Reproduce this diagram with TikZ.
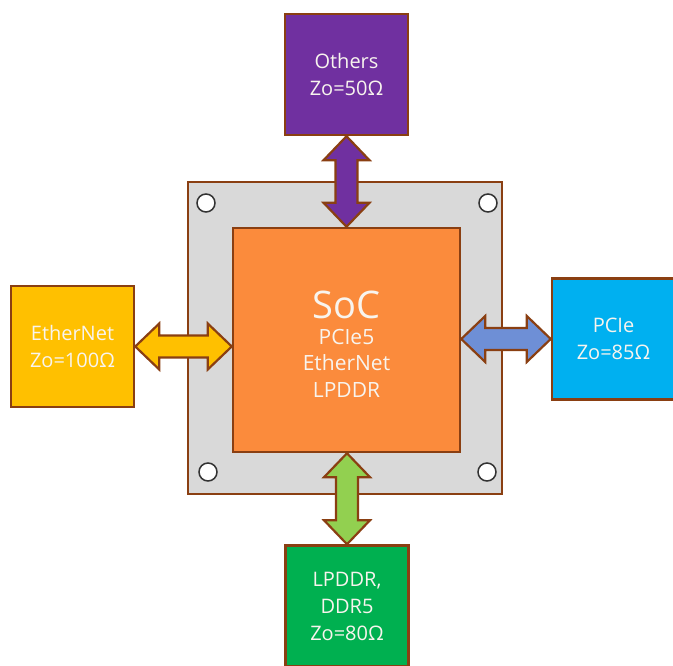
\documentclass[tikz,border=0pt]{standalone}
\usepackage{fontspec}
\setmainfont{Open Sans}
\usetikzlibrary{calc}
\definecolor{brd}{HTML}{8A3F12}
\definecolor{purp}{HTML}{7030A0}
\definecolor{gold}{HTML}{FFC000}
\definecolor{sky}{HTML}{00B0F0}
\definecolor{grn}{HTML}{00B050}
\definecolor{lgrn}{HTML}{92D050}
\definecolor{lblue}{HTML}{6E8FD6}
\definecolor{soco}{HTML}{FB8B3C}
\definecolor{board}{HTML}{D9D9D9}
\definecolor{txt}{HTML}{F8F4EE}
\tikzset{
  box/.style={draw=brd, line width=2.5pt, minimum width=123pt, minimum height=121pt,
    inner sep=0pt, align=center, text=txt, font=\fontsize{20}{27}\selectfont},
  arrowline/.style={draw=brd, line width=2.2pt, line join=miter},
  hole/.style={circle, draw=black!80, fill=white, line width=1.5pt, minimum size=18pt, inner sep=0pt},
}
\newcommand{\harrow}[3]{%
  \path[arrowline, fill=#1] let \p1=#2, \p2=#3 in
   (\x1,\y1) -- (\x1+24pt,\y1+23pt) -- (\x1+24pt,\y1+11pt) -- (\x2-24pt,\y1+11pt)
   -- (\x2-24pt,\y1+23pt) -- (\x2,\y1) -- (\x2-24pt,\y1-23pt) -- (\x2-24pt,\y1-11pt)
   -- (\x1+24pt,\y1-11pt) -- (\x1+24pt,\y1-23pt) -- cycle;}
\newcommand{\varrow}[3]{%
  \path[arrowline, fill=#1] let \p1=#2, \p2=#3 in
   (\x1,\y1) -- (\x1+23pt,\y1-24pt) -- (\x1+11pt,\y1-24pt) -- (\x1+11pt,\y2+24pt)
   -- (\x1+23pt,\y2+24pt) -- (\x1,\y2) -- (\x1-23pt,\y2+24pt) -- (\x1-11pt,\y2+24pt)
   -- (\x1-11pt,\y1-24pt) -- (\x1-23pt,\y1-24pt) -- cycle;}
\begin{document}
\begin{tikzpicture}[x=1pt,y=1pt]
\useasboundingbox (0,0) rectangle (673,666);
% board
\node[draw=brd, line width=2.5pt, fill=board, minimum width=314pt, minimum height=312pt, inner sep=0pt] (board) at (345,328) {};
\node[hole] (h1) at (206,463) {};
\node[hole] (h2) at (488,463) {};
\node[hole] (h3) at (208,194) {};
\node[hole] (h4) at (487,194) {};
% SoC
\node[draw=brd, line width=2.5pt, fill=soco, minimum width=227pt, minimum height=224pt, inner sep=0pt] (soc) at (346.5,326) {};
\node[align=center, text=txt, inner sep=0pt, font=\fontsize{21}{26.5}\selectfont, anchor=center] (soct) at ([yshift=-4pt]soc.center)
  {{\fontsize{38}{40}\selectfont SoC}\\[-1pt] PCIe5\\ EtherNet\\ LPDDR};
% peripherals
\node[box, fill=purp] (oth) at (346.5,591.5) {Others\\Zo=50Ω};
\node[box, fill=gold] (eth) at (72.5,319.5) {EtherNet\\Zo=100Ω};
\node[box, fill=sky] (pcie) at (613.5,327) {PCIe\\Zo=85Ω};
\node[box, fill=grn] (ddr) at (347,60) {LPDDR,\\DDR5\\Zo=80Ω};
% arrows
\varrow{purp}{(oth.south)}{(oth.south |- soc.north)}
\varrow{lgrn}{(ddr.north |- soc.south)}{(ddr.north)}
\harrow{gold}{(eth.east)}{(soc.west |- eth.east)}
\harrow{lblue}{(soc.east |- pcie.west)}{(pcie.west)}
\end{tikzpicture}
\end{document}
